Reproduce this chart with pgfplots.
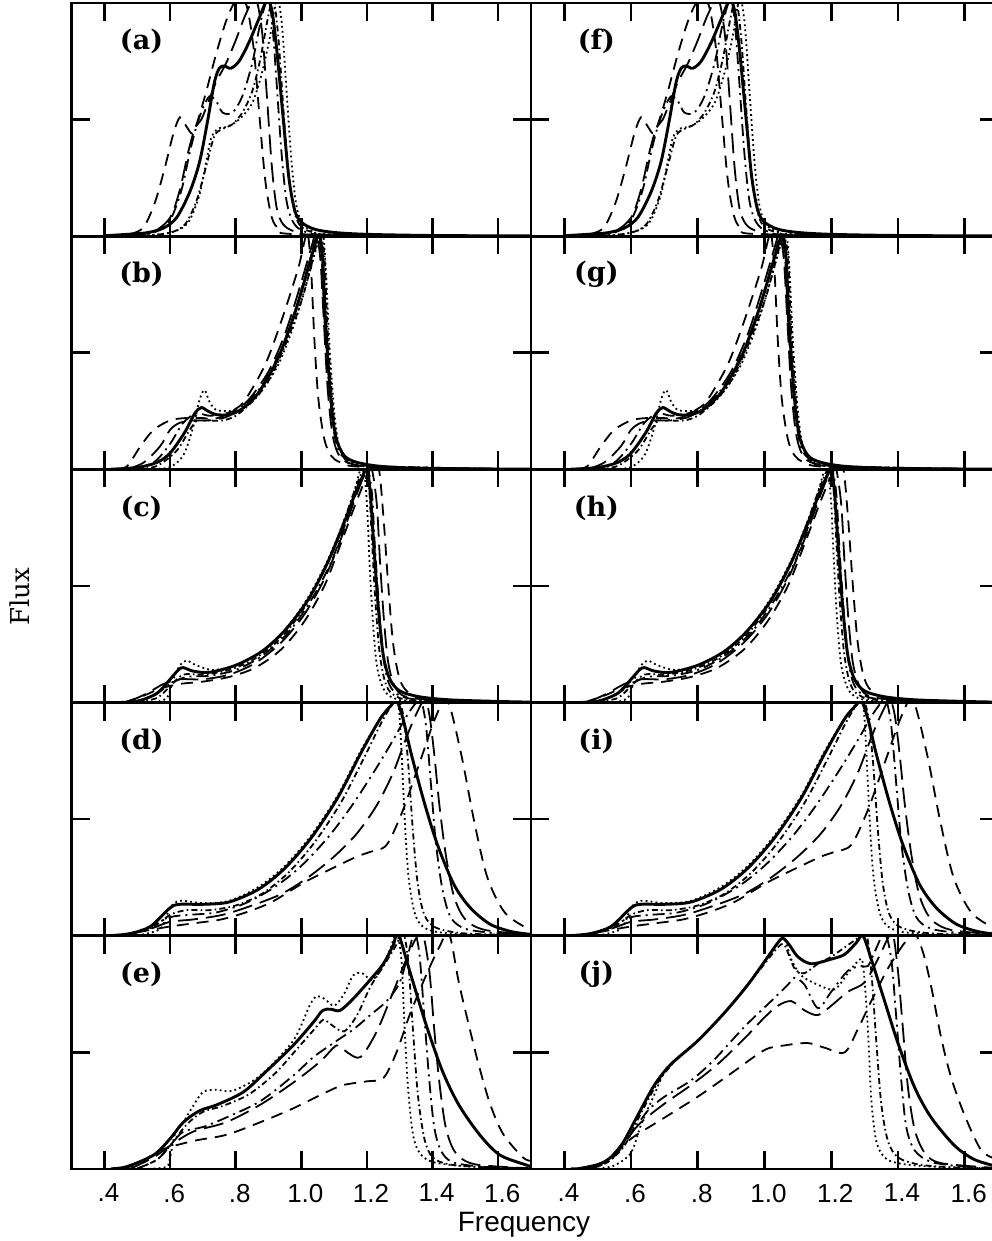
\documentclass[border=0pt]{standalone}
\usepackage{pgfplots}
\pgfplotsset{compat=1.18}
\usepackage{fontspec}
\setmainfont{DejaVu Serif}
\setsansfont{Liberation Sans}
\tikzset{
 sA/.style={line width=1.45pt},
 sB/.style={line width=0.9pt, dash pattern=on 0.9pt off 1.6pt},
 sC/.style={line width=0.9pt, dash pattern=on 3pt off 1.6pt on 0.8pt off 1.6pt},
 sD/.style={line width=0.9pt, dash pattern=on 6pt off 2.5pt on 1pt off 2.5pt},
 sE/.style={line width=0.9pt, dash pattern=on 10pt off 4pt},
 sF/.style={line width=0.9pt, dash pattern=on 6pt off 4pt},
 plab/.style={font=\fontsize{13.5}{13.5}\selectfont\bfseries},
}
\pgfplotsset{
 panel/.style={scale only axis, height=116.6pt, xmin=0.3, xmax=1.7, ymin=0, ymax=1,
  xtick={0.4,0.6,0.8,1.0,1.2,1.4,1.6}, ytick={0.5}, xtick pos=both, ytick pos=both,
  tick align=inside, major tick length=9pt, yticklabels={}, xticklabels={},
  axis line style={line width=1.4pt}, tick style={line width=1.3pt, black},
  every axis plot/.append style={smooth, tension=0.5, black, no markers},
  anchor=south west},
 bottom/.style={xticklabels={.4,.6,.8,1.0,1.2,1.4,1.6},
  xticklabel style={font=\fontsize{13}{13}\selectfont\sffamily, yshift=-4pt, xshift=2pt}},
}
\newcommand{\panelAF}{%
\addplot[sA] coordinates {(0.40,0.002)(0.47,0.008)(0.53,0.015)(0.58,0.035)(0.62,0.08)(0.66,0.19)(0.69,0.32)(0.715,0.5)(0.735,0.66)(0.75,0.72)(0.765,0.73)(0.785,0.72)(0.81,0.75)(0.84,0.83)(0.87,0.93)(0.895,1.01)(0.91,0.97)(0.925,0.8)(0.945,0.5)(0.962,0.25)(0.98,0.11)(1.0,0.06)(1.04,0.03)(1.1,0.016)(1.2,0.008)(1.4,0.003)(1.7,0.001)};
\addplot[sB] coordinates {(0.5,0.001)(0.58,0.01)(0.63,0.03)(0.66,0.07)(0.69,0.18)(0.71,0.32)(0.725,0.42)(0.745,0.46)(0.775,0.47)(0.81,0.5)(0.85,0.57)(0.88,0.7)(0.905,0.86)(0.925,1.02)(0.94,0.92)(0.955,0.62)(0.97,0.32)(0.985,0.13)(1.005,0.05)(1.04,0.02)(1.1,0.008)(1.7,0)};
\addplot[sC] coordinates {(0.52,0.001)(0.6,0.015)(0.645,0.05)(0.68,0.15)(0.71,0.3)(0.735,0.43)(0.76,0.46)(0.79,0.48)(0.82,0.53)(0.85,0.62)(0.875,0.76)(0.9,0.95)(0.915,1.02)(0.93,0.85)(0.945,0.55)(0.96,0.28)(0.98,0.1)(1.0,0.04)(1.04,0.015)(1.1,0.006)(1.7,0)};
\addplot[sD] coordinates {(0.48,0.001)(0.55,0.015)(0.6,0.07)(0.635,0.2)(0.66,0.36)(0.68,0.47)(0.7,0.55)(0.72,0.6)(0.74,0.58)(0.76,0.53)(0.79,0.53)(0.82,0.6)(0.85,0.74)(0.87,0.88)(0.885,0.97)(0.9,1.02)(0.912,0.9)(0.925,0.65)(0.94,0.35)(0.955,0.15)(0.975,0.06)(1.01,0.02)(1.1,0.005)(1.7,0)};
\addplot[sE] coordinates {(0.48,0.001)(0.55,0.02)(0.6,0.08)(0.63,0.2)(0.655,0.36)(0.675,0.46)(0.695,0.5)(0.715,0.57)(0.74,0.66)(0.77,0.74)(0.8,0.84)(0.83,0.95)(0.86,1.02)(0.88,0.88)(0.895,0.6)(0.91,0.3)(0.925,0.12)(0.945,0.05)(0.98,0.02)(1.05,0.005)(1.7,0)};
\addplot[sF] coordinates {(0.42,0.001)(0.48,0.01)(0.52,0.04)(0.555,0.15)(0.585,0.3)(0.61,0.44)(0.63,0.51)(0.65,0.47)(0.668,0.44)(0.685,0.5)(0.71,0.62)(0.74,0.78)(0.77,0.92)(0.795,1.0)(0.815,1.02)(0.835,0.98)(0.855,0.8)(0.872,0.52)(0.89,0.24)(0.91,0.08)(0.935,0.03)(1.0,0.008)(1.7,0)};
}
\newcommand{\panelBG}{%
\addplot[sA] coordinates {(0.42,0.001)(0.5,0.008)(0.56,0.03)(0.6,0.07)(0.645,0.16)(0.675,0.24)(0.695,0.265)(0.715,0.25)(0.74,0.235)(0.78,0.235)(0.82,0.26)(0.87,0.33)(0.93,0.48)(0.98,0.67)(1.02,0.86)(1.045,0.98)(1.055,1.01)(1.065,0.9)(1.075,0.6)(1.09,0.3)(1.105,0.14)(1.13,0.06)(1.17,0.03)(1.25,0.012)(1.4,0.004)(1.7,0.001)};
\addplot[sB] coordinates {(0.55,0.001)(0.6,0.01)(0.64,0.06)(0.67,0.18)(0.69,0.3)(0.705,0.34)(0.72,0.29)(0.74,0.255)(0.78,0.25)(0.82,0.26)(0.87,0.32)(0.93,0.45)(0.98,0.63)(1.02,0.82)(1.05,0.97)(1.065,1.02)(1.075,0.85)(1.085,0.55)(1.1,0.25)(1.115,0.1)(1.14,0.04)(1.2,0.015)(1.4,0.003)(1.7,0)};
\addplot[sC] coordinates {(0.5,0.001)(0.56,0.015)(0.62,0.08)(0.66,0.17)(0.69,0.22)(0.72,0.21)(0.76,0.21)(0.8,0.23)(0.85,0.29)(0.9,0.38)(0.95,0.53)(1.0,0.72)(1.035,0.9)(1.055,1.0)(1.07,0.92)(1.08,0.6)(1.095,0.28)(1.11,0.12)(1.14,0.045)(1.2,0.015)(1.7,0)};
\addplot[sD] coordinates {(0.48,0.001)(0.55,0.03)(0.6,0.11)(0.64,0.2)(0.68,0.24)(0.72,0.23)(0.77,0.24)(0.82,0.27)(0.88,0.36)(0.94,0.52)(0.99,0.72)(1.03,0.92)(1.05,1.01)(1.062,0.9)(1.072,0.6)(1.088,0.3)(1.105,0.12)(1.13,0.05)(1.2,0.015)(1.7,0)};
\addplot[sE] coordinates {(0.47,0.001)(0.52,0.03)(0.57,0.1)(0.6,0.17)(0.63,0.2)(0.67,0.21)(0.72,0.21)(0.78,0.23)(0.84,0.3)(0.9,0.42)(0.95,0.58)(0.995,0.78)(1.03,0.95)(1.045,1.01)(1.058,0.9)(1.068,0.65)(1.08,0.35)(1.095,0.15)(1.115,0.06)(1.15,0.025)(1.25,0.008)(1.7,0)};
\addplot[sF] coordinates {(0.44,0.001)(0.47,0.015)(0.51,0.1)(0.55,0.17)(0.6,0.21)(0.645,0.22)(0.69,0.22)(0.745,0.22)(0.8,0.26)(0.83,0.3)(0.89,0.45)(0.94,0.64)(0.99,0.86)(1.01,0.98)(1.02,1.01)(1.03,0.85)(1.04,0.55)(1.052,0.3)(1.07,0.13)(1.09,0.06)(1.12,0.03)(1.2,0.01)(1.7,0)};
}
\newcommand{\panelCH}{%
\addplot[sA] coordinates {(0.45,0.001)(0.5,0.005)(0.56,0.04)(0.6,0.1)(0.625,0.14)(0.64,0.15)(0.67,0.135)(0.72,0.13)(0.8,0.16)(0.88,0.22)(0.95,0.31)(1.02,0.44)(1.08,0.6)(1.13,0.77)(1.165,0.9)(1.19,0.98)(1.2,1.01)(1.21,0.9)(1.222,0.65)(1.235,0.4)(1.25,0.2)(1.27,0.1)(1.3,0.05)(1.36,0.025)(1.45,0.012)(1.6,0.005)(1.7,0.002)};
\addplot[sB] coordinates {(0.55,0.001)(0.59,0.02)(0.61,0.1)(0.63,0.16)(0.65,0.18)(0.68,0.16)(0.73,0.14)(0.8,0.16)(0.88,0.22)(0.95,0.31)(1.02,0.45)(1.08,0.61)(1.13,0.78)(1.16,0.9)(1.18,1.0)(1.19,1.01)(1.2,0.85)(1.208,0.6)(1.218,0.35)(1.23,0.16)(1.25,0.06)(1.28,0.02)(1.35,0.006)(1.7,0)};
\addplot[sC] coordinates {(0.5,0.001)(0.56,0.02)(0.6,0.07)(0.64,0.12)(0.7,0.12)(0.78,0.14)(0.86,0.19)(0.94,0.28)(1.01,0.41)(1.07,0.57)(1.12,0.74)(1.16,0.9)(1.19,1.0)(1.205,0.95)(1.215,0.7)(1.225,0.45)(1.238,0.22)(1.255,0.09)(1.28,0.035)(1.35,0.01)(1.7,0)};
\addplot[sD] coordinates {(0.48,0.001)(0.55,0.03)(0.6,0.08)(0.65,0.11)(0.72,0.115)(0.8,0.14)(0.88,0.2)(0.96,0.3)(1.03,0.44)(1.09,0.6)(1.14,0.79)(1.18,0.95)(1.2,1.01)(1.215,0.9)(1.225,0.65)(1.24,0.35)(1.255,0.15)(1.275,0.06)(1.32,0.02)(1.45,0.005)(1.7,0)};
\addplot[sE] coordinates {(0.47,0.001)(0.53,0.04)(0.58,0.08)(0.63,0.1)(0.7,0.1)(0.78,0.12)(0.86,0.17)(0.94,0.26)(1.01,0.38)(1.07,0.53)(1.12,0.7)(1.165,0.88)(1.2,1.0)(1.215,1.0)(1.23,0.85)(1.24,0.6)(1.252,0.35)(1.265,0.17)(1.285,0.07)(1.32,0.025)(1.45,0.006)(1.7,0)};
\addplot[sF] coordinates {(0.46,0.001)(0.52,0.03)(0.57,0.06)(0.63,0.08)(0.7,0.09)(0.78,0.11)(0.86,0.15)(0.94,0.23)(1.01,0.35)(1.07,0.5)(1.12,0.68)(1.17,0.87)(1.21,1.0)(1.235,1.01)(1.25,0.8)(1.265,0.5)(1.28,0.25)(1.3,0.1)(1.33,0.04)(1.4,0.012)(1.7,0.001)};
}
\newcommand{\panelDI}{%
\addplot[sA] coordinates {(0.42,0.001)(0.48,0.01)(0.54,0.04)(0.6,0.12)(0.63,0.135)(0.7,0.135)(0.78,0.145)(0.87,0.2)(0.95,0.29)(1.03,0.42)(1.11,0.59)(1.18,0.78)(1.24,0.93)(1.275,0.99)(1.29,1.01)(1.31,0.93)(1.335,0.78)(1.375,0.57)(1.415,0.39)(1.465,0.22)(1.515,0.12)(1.575,0.05)(1.64,0.018)(1.7,0.006)};
\addplot[sB] coordinates {(0.5,0.001)(0.57,0.03)(0.6,0.12)(0.63,0.15)(0.7,0.14)(0.78,0.15)(0.87,0.21)(0.95,0.3)(1.03,0.43)(1.11,0.6)(1.18,0.79)(1.24,0.93)(1.28,1.0)(1.295,1.01)(1.305,0.8)(1.315,0.5)(1.327,0.25)(1.345,0.1)(1.37,0.04)(1.42,0.015)(1.55,0.005)(1.7,0.001)};
\addplot[sC] coordinates {(0.47,0.001)(0.55,0.04)(0.6,0.09)(0.65,0.11)(0.72,0.11)(0.8,0.13)(0.88,0.18)(0.96,0.27)(1.04,0.4)(1.12,0.57)(1.19,0.76)(1.25,0.93)(1.29,1.01)(1.31,0.95)(1.325,0.75)(1.34,0.45)(1.355,0.22)(1.375,0.09)(1.41,0.035)(1.5,0.01)(1.7,0.002)};
\addplot[sD] coordinates {(0.46,0.001)(0.54,0.04)(0.6,0.08)(0.66,0.09)(0.74,0.1)(0.83,0.14)(0.92,0.21)(1.0,0.3)(1.08,0.42)(1.15,0.55)(1.22,0.7)(1.28,0.84)(1.32,0.94)(1.35,1.0)(1.365,1.01)(1.38,0.9)(1.395,0.65)(1.41,0.4)(1.43,0.2)(1.455,0.08)(1.5,0.03)(1.6,0.01)(1.7,0.003)};
\addplot[sE] coordinates {(0.46,0.001)(0.54,0.03)(0.6,0.06)(0.67,0.07)(0.76,0.09)(0.85,0.13)(0.94,0.18)(1.02,0.25)(1.1,0.34)(1.17,0.44)(1.23,0.56)(1.28,0.7)(1.32,0.85)(1.35,0.95)(1.375,1.01)(1.39,0.95)(1.405,0.78)(1.42,0.57)(1.44,0.35)(1.465,0.17)(1.5,0.07)(1.56,0.025)(1.7,0.005)};
\addplot[sF] coordinates {(0.44,0.001)(0.52,0.02)(0.6,0.04)(0.68,0.055)(0.755,0.07)(0.83,0.1)(0.91,0.145)(1.01,0.23)(1.11,0.3)(1.17,0.34)(1.21,0.36)(1.26,0.39)(1.31,0.54)(1.36,0.74)(1.41,0.94)(1.445,1.01)(1.487,0.78)(1.527,0.49)(1.567,0.25)(1.62,0.1)(1.69,0.03)(1.7,0.025)};
}
\begin{document}
\begin{tikzpicture}
% (a)
\begin{axis}[panel, width=229.65pt, at={(35.85pt,502.4pt)}]
\panelAF
\node[plab] at (rel axis cs:0.152,0.835) {(a)};
\end{axis}
% (b)
\begin{axis}[panel, width=229.65pt, at={(35.85pt,385.8pt)}]
\panelBG
\node[plab] at (rel axis cs:0.152,0.835) {(b)};
\end{axis}
% (c)
\begin{axis}[panel, width=229.65pt, at={(35.85pt,269.2pt)}]
\panelCH
\node[plab] at (rel axis cs:0.152,0.835) {(c)};
\end{axis}
% (d)
\begin{axis}[panel, width=229.65pt, at={(35.85pt,152.6pt)}]
\panelDI
\node[plab] at (rel axis cs:0.152,0.835) {(d)};
\end{axis}
% (e)
\begin{axis}[panel, bottom, width=229.65pt, at={(35.85pt,36pt)}]
\addplot[sA] coordinates {(0.42,0.001)(0.468,0.01)(0.55,0.06)(0.6,0.13)(0.64,0.2)(0.69,0.25)(0.742,0.275)(0.823,0.33)(0.894,0.42)(0.975,0.53)(1.037,0.63)(1.065,0.68)(1.09,0.685)(1.118,0.68)(1.158,0.73)(1.209,0.81)(1.25,0.88)(1.28,0.96)(1.295,1.01)(1.33,0.85)(1.38,0.62)(1.43,0.42)(1.48,0.275)(1.544,0.146)(1.605,0.06)(1.686,0.017)(1.7,0.012)};
\addplot[sB] coordinates {(0.55,0.002)(0.59,0.01)(0.6,0.05)(0.615,0.15)(0.64,0.2)(0.67,0.27)(0.7,0.33)(0.74,0.34)(0.79,0.335)(0.874,0.4)(0.975,0.55)(1.025,0.7)(1.045,0.74)(1.07,0.73)(1.1,0.7)(1.13,0.75)(1.158,0.83)(1.185,0.84)(1.215,0.81)(1.245,0.86)(1.27,0.94)(1.29,1.01)(1.305,0.9)(1.315,0.6)(1.325,0.35)(1.34,0.15)(1.36,0.07)(1.4,0.03)(1.5,0.012)(1.7,0.002)};
\addplot[sC] coordinates {(0.5,0.002)(0.56,0.04)(0.6,0.1)(0.65,0.19)(0.7,0.245)(0.76,0.27)(0.84,0.32)(0.92,0.41)(0.99,0.52)(1.04,0.6)(1.067,0.64)(1.09,0.62)(1.13,0.59)(1.17,0.66)(1.21,0.78)(1.25,0.87)(1.285,0.95)(1.31,1.01)(1.325,0.9)(1.34,0.6)(1.355,0.32)(1.375,0.13)(1.4,0.05)(1.45,0.02)(1.55,0.008)(1.7,0.002)};
\addplot[sD] coordinates {(0.5,0.002)(0.56,0.04)(0.6,0.1)(0.64,0.16)(0.7,0.18)(0.77,0.22)(0.874,0.29)(0.975,0.4)(1.037,0.48)(1.108,0.55)(1.16,0.6)(1.21,0.66)(1.26,0.72)(1.3,0.8)(1.325,0.92)(1.345,1.01)(1.36,0.92)(1.375,0.65)(1.39,0.38)(1.405,0.18)(1.425,0.08)(1.46,0.03)(1.55,0.01)(1.7,0.003)};
\addplot[sE] coordinates {(0.48,0.002)(0.55,0.05)(0.6,0.1)(0.67,0.16)(0.77,0.2)(0.874,0.275)(0.975,0.37)(1.057,0.46)(1.108,0.53)(1.14,0.5)(1.18,0.48)(1.23,0.59)(1.28,0.76)(1.32,0.9)(1.35,0.99)(1.37,1.01)(1.39,0.85)(1.405,0.6)(1.42,0.38)(1.44,0.18)(1.47,0.07)(1.53,0.02)(1.7,0.003)};
\addplot[sF] coordinates {(0.45,0.003)(0.5,0.02)(0.57,0.08)(0.67,0.12)(0.77,0.146)(0.874,0.2)(0.975,0.26)(1.077,0.33)(1.128,0.36)(1.2,0.376)(1.25,0.39)(1.29,0.5)(1.33,0.66)(1.38,0.83)(1.42,0.95)(1.45,1.01)(1.48,0.8)(1.51,0.62)(1.54,0.45)(1.575,0.28)(1.615,0.15)(1.675,0.05)(1.7,0.035)};
\node[plab] at (rel axis cs:0.152,0.835) {(e)};
\end{axis}
% (f)
\begin{axis}[panel, width=233.5pt, at={(265.5pt,502.4pt)}]
\panelAF
\node[plab] at (rel axis cs:0.14,0.835) {(f)};
\end{axis}
% (g)
\begin{axis}[panel, width=233.5pt, at={(265.5pt,385.8pt)}]
\panelBG
\node[plab] at (rel axis cs:0.14,0.835) {(g)};
\end{axis}
% (h)
\begin{axis}[panel, width=233.5pt, at={(265.5pt,269.2pt)}]
\panelCH
\node[plab] at (rel axis cs:0.14,0.835) {(h)};
\end{axis}
% (i)
\begin{axis}[panel, width=233.5pt, at={(265.5pt,152.6pt)}]
\panelDI
\node[plab] at (rel axis cs:0.14,0.835) {(i)};
\end{axis}
% (j)
\begin{axis}[panel, bottom, width=233.5pt, at={(265.5pt,36pt)}]
\addplot[sA] coordinates {(0.42,0.001)(0.45,0.003)(0.52,0.03)(0.57,0.1)(0.62,0.23)(0.67,0.36)(0.72,0.45)(0.8,0.55)(0.88,0.67)(0.95,0.79)(1.01,0.91)(1.04,0.97)(1.055,0.99)(1.075,0.96)(1.1,0.91)(1.14,0.88)(1.2,0.9)(1.24,0.92)(1.275,0.97)(1.295,1.0)(1.32,0.9)(1.36,0.72)(1.4,0.54)(1.45,0.35)(1.5,0.22)(1.57,0.1)(1.63,0.04)(1.7,0.01)};
\addplot[sB] coordinates {(0.5,0.002)(0.55,0.015)(0.6,0.07)(0.63,0.19)(0.67,0.32)(0.7,0.42)(0.72,0.45)(0.8,0.55)(0.88,0.67)(0.95,0.79)(1.01,0.91)(1.045,0.98)(1.06,0.99)(1.08,0.9)(1.11,0.83)(1.16,0.79)(1.21,0.77)(1.25,0.84)(1.28,0.89)(1.295,0.88)(1.31,0.6)(1.32,0.3)(1.335,0.12)(1.36,0.05)(1.4,0.025)(1.5,0.01)(1.7,0.002)};
\addplot[sC] coordinates {(0.48,0.002)(0.53,0.03)(0.58,0.1)(0.63,0.24)(0.68,0.37)(0.73,0.46)(0.8,0.55)(0.88,0.67)(0.95,0.79)(1.0,0.88)(1.04,0.95)(1.06,0.96)(1.09,0.86)(1.12,0.84)(1.16,0.88)(1.2,0.91)(1.24,0.95)(1.28,0.99)(1.305,1.01)(1.32,0.85)(1.335,0.55)(1.35,0.28)(1.37,0.12)(1.4,0.05)(1.46,0.02)(1.55,0.008)(1.7,0.002)};
\addplot[sD] coordinates {(0.48,0.002)(0.54,0.04)(0.6,0.15)(0.65,0.25)(0.7,0.31)(0.78,0.38)(0.85,0.47)(0.94,0.61)(1.02,0.72)(1.07,0.79)(1.09,0.82)(1.12,0.79)(1.16,0.69)(1.2,0.76)(1.25,0.85)(1.29,0.87)(1.31,0.87)(1.33,0.93)(1.36,1.01)(1.38,0.9)(1.395,0.65)(1.41,0.38)(1.425,0.18)(1.45,0.08)(1.5,0.03)(1.6,0.01)(1.7,0.003)};
\addplot[sE] coordinates {(0.47,0.002)(0.53,0.04)(0.58,0.12)(0.63,0.2)(0.7,0.28)(0.78,0.36)(0.86,0.45)(0.94,0.56)(1.0,0.65)(1.04,0.7)(1.08,0.72)(1.12,0.68)(1.16,0.66)(1.2,0.7)(1.25,0.76)(1.3,0.8)(1.34,0.9)(1.37,0.99)(1.385,1.01)(1.4,0.85)(1.415,0.6)(1.43,0.35)(1.45,0.17)(1.48,0.07)(1.53,0.025)(1.7,0.004)};
\addplot[sF] coordinates {(0.44,0.002)(0.5,0.02)(0.55,0.06)(0.6,0.13)(0.7,0.22)(0.8,0.31)(0.9,0.41)(1.0,0.51)(1.06,0.53)(1.13,0.54)(1.18,0.52)(1.24,0.5)(1.28,0.6)(1.32,0.72)(1.37,0.86)(1.42,0.97)(1.45,1.01)(1.475,0.93)(1.5,0.78)(1.53,0.56)(1.56,0.39)(1.6,0.23)(1.65,0.08)(1.7,0.04)};
\node[plab] at (rel axis cs:0.14,0.835) {(j)};
\end{axis}
\node[font=\fontsize{14}{14}\selectfont\sffamily] at (262pt,8pt) {Frequency};
\node[font=\fontsize{13}{13}\selectfont, rotate=90] at (10pt,322pt) {Flux};
\pgfresetboundingbox
\path[use as bounding box] (0,0) rectangle (495.5pt,620.5pt);
\end{tikzpicture}
\end{document}
